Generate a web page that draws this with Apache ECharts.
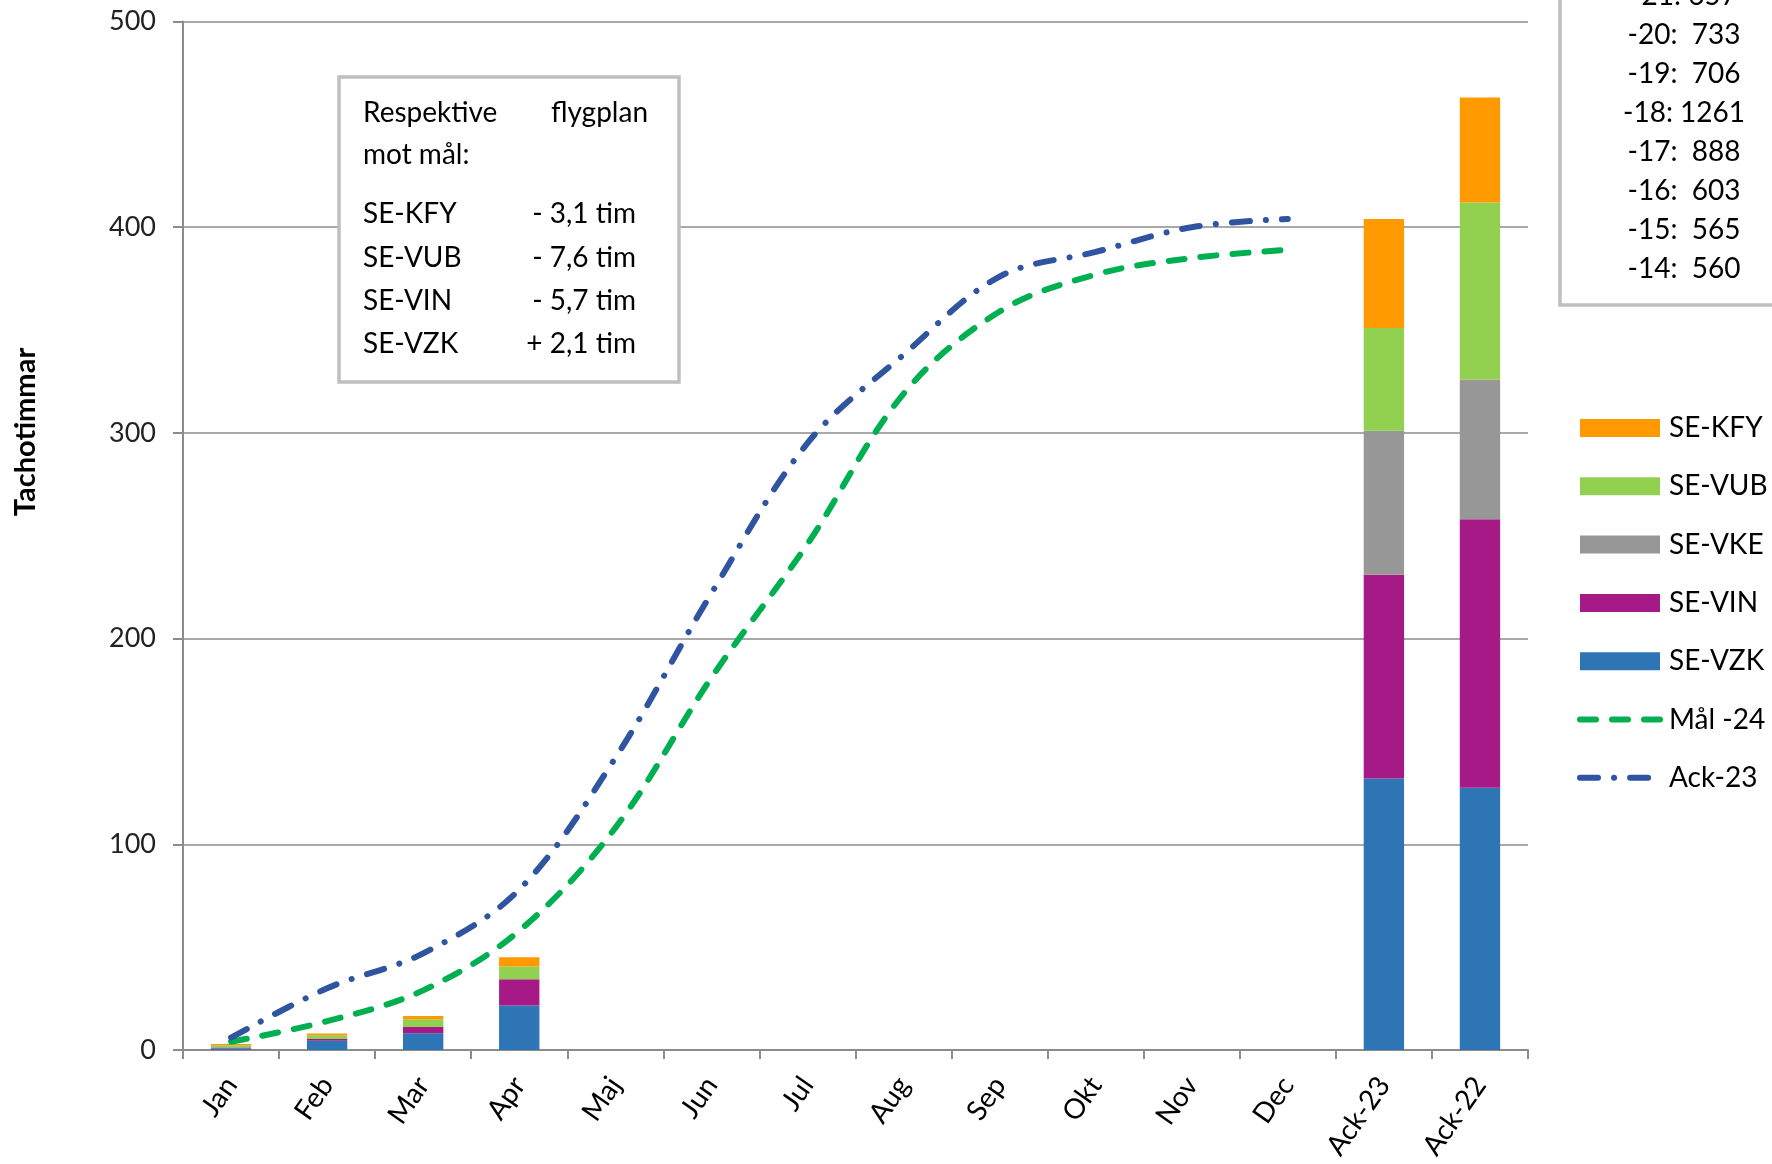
<!DOCTYPE html>
<html>
<head>
<meta charset="utf-8">
<script src="https://cdn.jsdelivr.net/npm/echarts@6/dist/echarts.min.js"></script>
<style>
html,body{margin:0;padding:0;background:#fff;}
#c{width:1772px;height:1164px;}
</style>
</head>
<body>
<div id="c"></div>
<script>
var categories = ['Jan','Feb','Mar','Apr','Maj','Jun','Jul','Aug','Sep','Okt','Nov','Dec','Ack-23','Ack-22'];
var seVZK = [0.7, 4.5, 8.1, 21.6, null, null, null, null, null, null, null, null, 132, 127.5];
var seVIN = [0.5, 0.8, 3.1, 12.8, null, null, null, null, null, null, null, null, 99, 130.5];
var seVKE = [0, 0, 0, 0, null, null, null, null, null, null, null, null, 70, 68];
var seVUB = [1.1, 1.9, 3.7, 6.2, null, null, null, null, null, null, null, null, 50, 86];
var seKFY = [0.6, 0.8, 1.6, 4.5, null, null, null, null, null, null, null, null, 53, 51];
var mal24 = [4, 14, 29, 58, 108, 181, 246, 319, 359, 377, 385, 389, null, null];
var ack23 = [6, 30, 47, 78, 142, 222, 295, 338, 376, 388, 400, 404, null, null];
var yTicks = [0, 100, 200, 300, 400, 500];
var boxTitle = ['Respektive', 'flygplan', 'mot mål:'];
var boxPlanes = ['SE-KFY', 'SE-VUB', 'SE-VIN', 'SE-VZK'];
var boxDiffs = ['- 3,1 tim', '- 7,6 tim', '- 5,7 tim', '+ 2,1 tim'];
var yearTotals = ['-21: 657', '-20:  733', '-19:  706', '-18: 1261', '-17:  888', '-16:  603', '-15:  565', '-14:  560'];

var FONT = 'Lato';
var chart = echarts.init(document.getElementById('c'));

function barSeries(name, data, color) {
  return {
    name: name, type: 'bar', stack: 'tot', data: data,
    barCategoryGap: '58%',
    itemStyle: {color: color},
    emphasis: {disabled: true}
  };
}

var graphics = [];
graphics.push({
  type: 'text', x: 26, y: 432, rotation: Math.PI / 2,
  style: {text: 'Tachotimmar', font: 'bold 29px ' + FONT, fill: '#000', textAlign: 'center', textVerticalAlign: 'middle'}
});
graphics.push({
  type: 'rect', shape: {x: 339, y: 77, width: 340, height: 305},
  style: {fill: '#fff', stroke: '#bfbfbf', lineWidth: 3.5}, z: 10
});
var F28 = '28px ' + FONT;
graphics.push({type: 'text', x: 363, y: 113, z: 11, style: {text: boxTitle[0], font: F28, fill: '#000', textVerticalAlign: 'middle'}});
graphics.push({type: 'text', x: 648, y: 113, z: 11, style: {text: boxTitle[1], font: F28, fill: '#000', textAlign: 'right', textVerticalAlign: 'middle'}});
graphics.push({type: 'text', x: 363, y: 155, z: 11, style: {text: boxTitle[2], font: F28, fill: '#000', textVerticalAlign: 'middle'}});
var rowY = [214, 258, 301, 344];
for (var i = 0; i < boxPlanes.length; i++) {
  graphics.push({type: 'text', x: 363, y: rowY[i], z: 11, style: {text: boxPlanes[i], font: F28, fill: '#000', textVerticalAlign: 'middle'}});
  graphics.push({type: 'text', x: 636, y: rowY[i], z: 11, style: {text: boxDiffs[i], font: F28, fill: '#000', textAlign: 'right', textVerticalAlign: 'middle'}});
}
graphics.push({
  type: 'rect', shape: {x: 1560, y: -20, width: 300, height: 325},
  style: {fill: '#fff', stroke: '#bfbfbf', lineWidth: 3.5}, z: 10
});
for (var j = 0; j < yearTotals.length; j++) {
  graphics.push({type: 'text', x: 1684, y: -4 + 39 * j, z: 11,
    style: {text: yearTotals[j], font: F28, fill: '#000', textAlign: 'center', textVerticalAlign: 'middle'}});
}

var hiddenDot = {opacity: 0};
var option = {
  backgroundColor: '#fff',
  animation: false,
  textStyle: {fontFamily: FONT},
  grid: {left: 183, top: 21.5, width: 1345, height: 1028.5, containLabel: false},
  legend: {
    orient: 'vertical', left: 1572, top: 408,
    itemWidth: 80, itemHeight: 18, itemGap: 28.3,
    data: [
      {name: 'SE-KFY', icon: 'rect'},
      {name: 'SE-VUB', icon: 'rect'},
      {name: 'SE-VKE', icon: 'rect'},
      {name: 'SE-VIN', icon: 'rect'},
      {name: 'SE-VZK', icon: 'rect'},
      {name: 'Mål -24', itemStyle: hiddenDot, lineStyle: {width: 6, cap: 'round', type: [16, 16]}},
      {name: 'Ack-23', itemStyle: hiddenDot, lineStyle: {width: 6, cap: 'round', type: [18, 16, 0.1, 16]}}
    ],
    textStyle: {fontSize: 28, color: '#000', fontFamily: FONT, lineHeight: 30, padding: [0, 0, 0, 4]},
    selectedMode: false
  },
  xAxis: {
    type: 'category', data: categories, boundaryGap: true,
    axisLine: {lineStyle: {color: '#8c8c8c', width: 2}},
    axisTick: {show: true, length: 9, alignWithLabel: false, lineStyle: {color: '#8c8c8c', width: 2}},
    axisLabel: {rotate: 55, fontSize: 28, color: '#000', fontFamily: FONT, margin: 30, interval: 0}
  },
  yAxis: {
    type: 'value', min: 0, max: 500, interval: 100,
    axisLine: {show: true, lineStyle: {color: '#8c8c8c', width: 2}},
    axisTick: {show: true, length: 10, lineStyle: {color: '#8c8c8c', width: 2}},
    splitLine: {lineStyle: {color: '#8c8c8c', width: 1.5}},
    axisLabel: {fontSize: 27, color: '#222', fontFamily: FONT, margin: 27}
  },
  series: [
    barSeries('SE-VZK', seVZK, '#2E75B6'),
    barSeries('SE-VIN', seVIN, '#A61A88'),
    barSeries('SE-VKE', seVKE, '#979797'),
    barSeries('SE-VUB', seVUB, '#92D050'),
    barSeries('SE-KFY', seKFY, '#FF9900'),
    {
      name: 'Mål -24', type: 'line', data: mal24, smooth: 0.35, symbol: 'none', showSymbol: false,
      lineStyle: {color: '#00B050', width: 6, type: [16, 16], cap: 'round'},
      itemStyle: {color: '#00B050'}, z: 5, emphasis: {disabled: true}
    },
    {
      name: 'Ack-23', type: 'line', data: ack23, smooth: 0.35, symbol: 'none', showSymbol: false,
      lineStyle: {color: '#2F55A0', width: 6, type: [18, 16, 0.1, 16], cap: 'round'},
      itemStyle: {color: '#2F55A0'}, z: 5, emphasis: {disabled: true}
    }
  ],
  graphic: graphics
};
chart.setOption(option);
</script>
</body>
</html>
